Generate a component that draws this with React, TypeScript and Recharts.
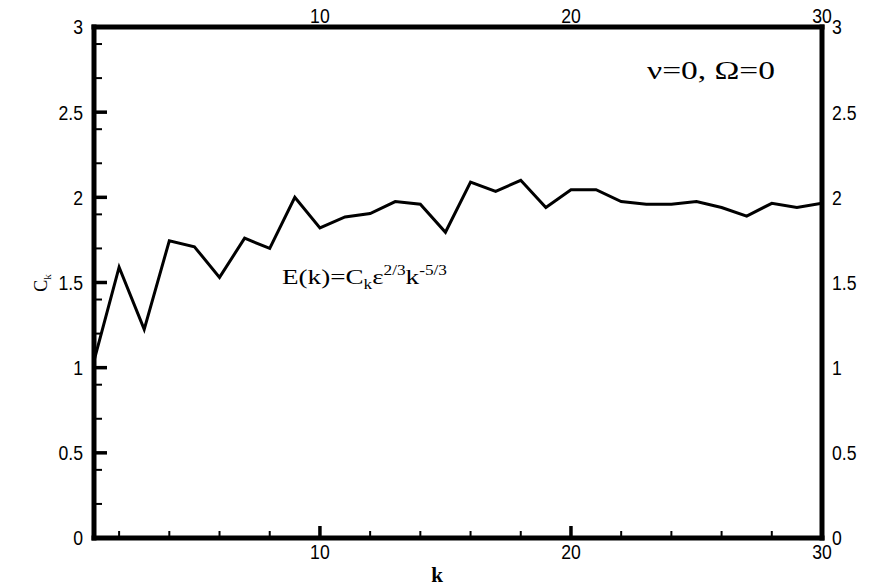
import React from 'react';
import { LineChart, Line, XAxis, YAxis, Customized } from 'recharts';

const kValues = [1, 2, 3, 4, 5, 6, 7, 8, 9, 10, 11, 12, 13, 14, 15, 16, 17, 18, 19, 20, 21, 22, 23, 24, 25, 26, 27, 28, 29, 30];
const ckValues = [1.04, 1.59, 1.225, 1.745, 1.71, 1.53, 1.76, 1.70, 2.0, 1.82, 1.885, 1.905, 1.975, 1.96, 1.795, 2.09, 2.035, 2.1, 1.94, 2.045, 2.045, 1.975, 1.96, 1.96, 1.975, 1.94, 1.89, 1.965, 1.94, 1.965];

const xMajorTicks = [10, 20, 30];
const xMinorTicks = [2, 4, 6, 8, 12, 14, 16, 18, 22, 24, 26, 28];
const yMajorTicks = [0, 0.5, 1, 1.5, 2, 2.5, 3];
const yMinorTicks = [0.1, 0.2, 0.3, 0.4, 0.6, 0.7, 0.8, 0.9, 1.1, 1.2, 1.3, 1.4, 1.6, 1.7, 1.8, 1.9, 2.1, 2.2, 2.3, 2.4, 2.6, 2.7, 2.8, 2.9];

const data = kValues.map((k, i) => ({ k, ck: ckValues[i] }));

const TICK_FONT = '"Liberation Sans", Arial, sans-serif';
const SERIF = '"Liberation Serif", "Times New Roman", serif';
const axisLine = { stroke: '#000', strokeWidth: 5, strokeLinecap: 'square' as const };

const NarrowTick = (props: any) => {
  const { x, y, payload, textAnchor, verticalAnchor } = props;
  const dy = verticalAnchor === 'start' ? '0.71em' : verticalAnchor === 'end' ? '0' : '0.355em';
  return (
    <g transform={`translate(${x},${y})`}>
      <text transform="scale(0.84,1)" textAnchor={textAnchor} dy={dy}
        fontFamily={TICK_FONT} fontSize={21} fill="#000">{String(payload.value)}</text>
    </g>
  );
};

const NoLabel = () => <g />;

const Annotations = () => (
  <g>
    <text x={437} y={582} textAnchor="middle" fontFamily={SERIF} fontWeight="bold" fontSize={21} fill="#000">k</text>
    <text transform="translate(47,283) rotate(-90)" textAnchor="middle" fontFamily={SERIF} fontSize={18} fill="#000">
      C<tspan fontSize={11} dy={4}>k</tspan>
    </text>
    <text x={282} y={284} fontFamily={SERIF} fontSize={22} fill="#000" textLength={165} lengthAdjust="spacingAndGlyphs">
      E(k)=C<tspan fontSize={14} dy={5}>k</tspan>
      <tspan dy={-5}>ε</tspan>
      <tspan fontSize={14} dy={-9}>2/3</tspan>
      <tspan dy={9}>k</tspan>
      <tspan fontSize={14} dy={-9}>-5/3</tspan>
    </text>
    <text x={647} y={79} fontFamily={SERIF} fontSize={25} fill="#000" textLength={128} lengthAdjust="spacingAndGlyphs">ν=0, Ω=0</text>
  </g>
);

export default function App() {
  return (
    <div style={{ position: 'absolute', left: 0, top: 0, background: '#fff' }}>
      <LineChart width={877} height={586} data={data} margin={{ top: 26, right: 54, bottom: 46, left: 92 }}>
        <XAxis xAxisId="b" dataKey="k" type="number" domain={[1, 30]} ticks={xMajorTicks} height={1}
          axisLine={axisLine} tickSize={-12} tickMargin={18} tick={<NarrowTick />}
          tickLine={{ stroke: '#000', strokeWidth: 3.5 }} allowDataOverflow />
        <XAxis xAxisId="bMinor" dataKey="k" type="number" domain={[1, 30]} ticks={xMinorTicks} height={1}
          axisLine={false} tickSize={-8} tickMargin={6} tick={<NoLabel />}
          tickLine={{ stroke: '#000', strokeWidth: 2 }} allowDataOverflow />
        <XAxis xAxisId="t" orientation="top" dataKey="k" type="number" domain={[1, 30]} ticks={xMajorTicks} height={1}
          axisLine={axisLine} tickLine={false} tickSize={0} tickMargin={4} tick={<NarrowTick />} allowDataOverflow />
        <YAxis yAxisId="l" type="number" domain={[0, 3]} ticks={yMajorTicks} width={1}
          axisLine={axisLine} tickSize={-13} tickMargin={24} tick={<NarrowTick />}
          tickLine={{ stroke: '#000', strokeWidth: 3.5 }} allowDataOverflow />
        <YAxis yAxisId="lMinor" type="number" domain={[0, 3]} ticks={yMinorTicks} width={1}
          axisLine={false} tickSize={-9} tickMargin={6} tick={<NoLabel />}
          tickLine={{ stroke: '#000', strokeWidth: 2 }} allowDataOverflow />
        <YAxis yAxisId="r" orientation="right" type="number" domain={[0, 3]} ticks={yMajorTicks} width={1}
          axisLine={axisLine} tickLine={false} tickSize={0} tickMargin={10} tick={<NarrowTick />}
          allowDataOverflow />
        <Line xAxisId="b" yAxisId="l" dataKey="ck" type="linear" stroke="#000" strokeWidth={3}
          dot={false} isAnimationActive={false} />
        <Customized component={Annotations} />
      </LineChart>
    </div>
  );
}
